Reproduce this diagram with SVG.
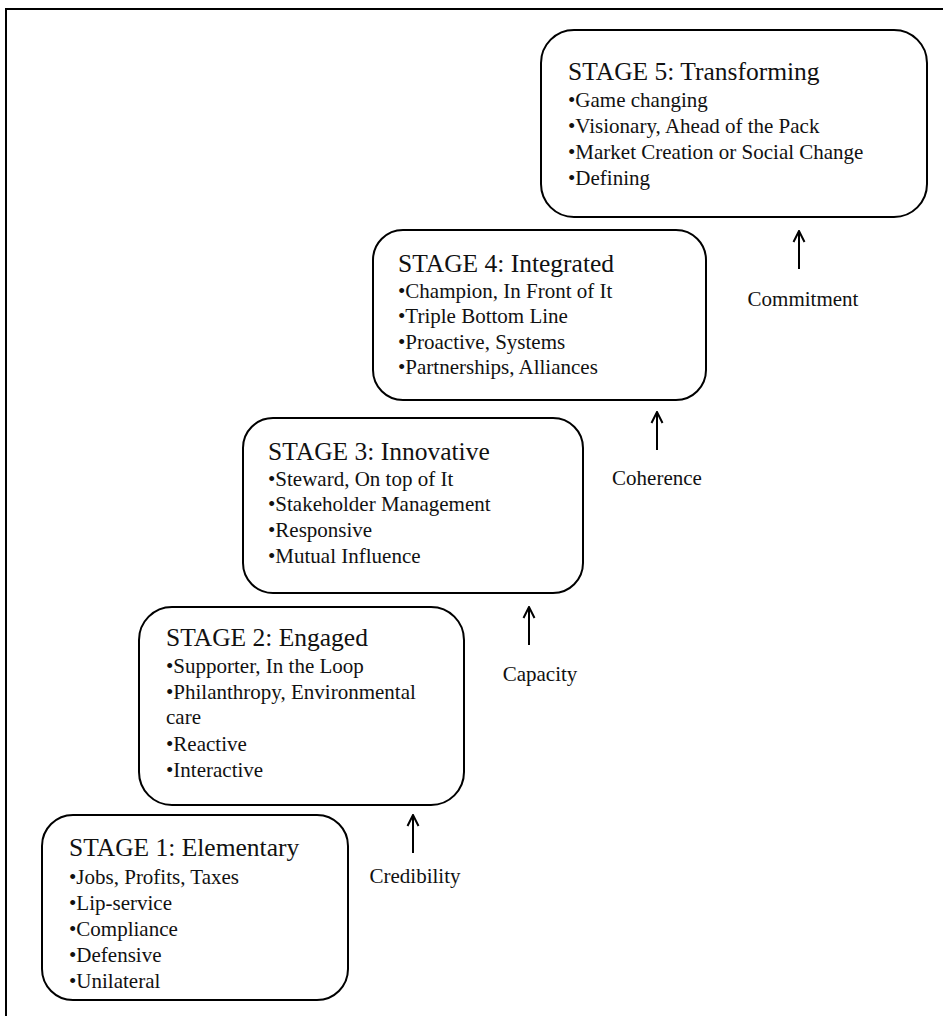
<svg xmlns="http://www.w3.org/2000/svg" width="943" height="1016" viewBox="0 0 943 1016">
<defs>
<style>
.box{fill:#fff;stroke:#000;stroke-width:2}
.t{font-family:"Liberation Serif","Times New Roman",serif;fill:#111}
.title{font-size:25.5px}
.b{font-size:21px}
.lbl{font-size:21px}
.arr{stroke:#000;stroke-width:2;fill:none}
</style>
<marker id="ah" viewBox="0 0 14 14" refX="13" refY="7" markerWidth="14" markerHeight="14" markerUnits="userSpaceOnUse" orient="auto">
<path d="M2,1.5 L13,7 L2,12.5" fill="none" stroke="#000" stroke-width="2" stroke-linejoin="miter"/>
</marker>
</defs>
<rect x="0" y="0" width="943" height="1016" fill="#fff"/>
<rect id="frame" x="6" y="9" width="960" height="1030" fill="none" stroke="#000" stroke-width="2"/>

<g id="stage5">
<rect class="box" x="541" y="30" width="386" height="187" rx="33"/>
<text class="t title" x="568" y="80">STAGE 5: Transforming</text>
<text class="t b" x="568" y="107">•Game changing</text>
<text class="t b" x="568" y="133">•Visionary, Ahead of the Pack</text>
<text class="t b" x="568" y="159">•Market Creation or Social Change</text>
<text class="t b" x="568" y="185">•Defining</text>
</g>

<g id="stage4">
<rect class="box" x="373" y="230" width="333" height="170" rx="30"/>
<text class="t title" x="398" y="272">STAGE 4: Integrated</text>
<text class="t b" x="398" y="298">•Champion, In Front of It</text>
<text class="t b" x="398" y="323">•Triple Bottom Line</text>
<text class="t b" x="398" y="349">•Proactive, Systems</text>
<text class="t b" x="398" y="374">•Partnerships, Alliances</text>
</g>

<g id="stage3">
<rect class="box" x="243" y="418" width="340" height="175" rx="30"/>
<text class="t title" x="268" y="460">STAGE 3: Innovative</text>
<text class="t b" x="268" y="486">•Steward, On top of It</text>
<text class="t b" x="268" y="511">•Stakeholder Management</text>
<text class="t b" x="268" y="537">•Responsive</text>
<text class="t b" x="268" y="563">•Mutual Influence</text>
</g>

<g id="stage2">
<rect class="box" x="139" y="607" width="325" height="198" rx="33"/>
<text class="t title" x="166" y="646">STAGE 2: Engaged</text>
<text class="t b" x="166" y="673">•Supporter, In the Loop</text>
<text class="t b" x="166" y="699">•Philanthropy, Environmental</text>
<text class="t b" x="166" y="724">care</text>
<text class="t b" x="166" y="751">•Reactive</text>
<text class="t b" x="166" y="777">•Interactive</text>
</g>

<g id="stage1">
<rect class="box" x="42" y="815" width="306" height="185" rx="31"/>
<text class="t title" x="69" y="856">STAGE 1: Elementary</text>
<text class="t b" x="69" y="884">•Jobs, Profits, Taxes</text>
<text class="t b" x="69" y="910">•Lip-service</text>
<text class="t b" x="69" y="936">•Compliance</text>
<text class="t b" x="69" y="962">•Defensive</text>
<text class="t b" x="69" y="988">•Unilateral</text>
</g>

<g id="connectors">
<line class="arr" x1="799" y1="269" x2="799" y2="231" marker-end="url(#ah)"/>
<line class="arr" x1="657" y1="450" x2="657" y2="412" marker-end="url(#ah)"/>
<line class="arr" x1="529" y1="645" x2="529" y2="607" marker-end="url(#ah)"/>
<line class="arr" x1="413" y1="853" x2="413" y2="815" marker-end="url(#ah)"/>
</g>

<g id="labels">
<text class="t lbl" x="803" y="306" text-anchor="middle">Commitment</text>
<text class="t lbl" x="657" y="485" text-anchor="middle">Coherence</text>
<text class="t lbl" x="540" y="681" text-anchor="middle">Capacity</text>
<text class="t lbl" x="415" y="883" text-anchor="middle">Credibility</text>
</g>
</svg>
